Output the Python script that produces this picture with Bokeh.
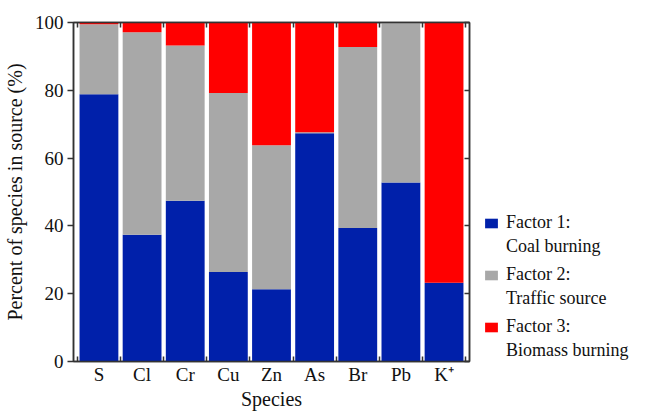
from bokeh.plotting import figure
from bokeh.layouts import row
from bokeh.models import (FixedTicker, LinearAxis, Range1d, Legend, LegendItem,
                          ColumnDataSource)
from bokeh.embed import file_html
from bokeh.resources import INLINE

species = ["S", "Cl", "Cr", "Cu", "Zn", "As", "Br", "Pb", "K\u207A"]
factor1 = [78.8, 37.4, 47.4, 26.4, 21.3, 67.3, 39.4, 52.8, 23.2]
factor2 = [20.7, 59.7, 45.8, 52.8, 42.5, 0.3, 53.4, 47.2, 0.0]
factor3 = [0.5, 2.9, 6.8, 20.8, 36.2, 32.4, 7.2, 0.0, 76.8]
factor_titles = ["Factor 1:", "Factor 2:", "Factor 3:"]
factor_sources = ["Coal burning", "Traffic source", "Biomass burning"]
colors = ["#0020AA", "#A8A8A8", "#FF0000"]
y_ticks = [0, 20, 40, 60, 80, 100]

x = list(range(len(species)))
src = ColumnDataSource(dict(x=x, f1=factor1, f2=factor2, f3=factor3))

FONT = "Liberation Serif"
H = 412
PW = 472

p = figure(width=PW, height=H, output_backend="svg", toolbar_location=None,
           x_range=Range1d(-0.59, len(species) - 1 + 0.59), y_range=Range1d(0, 100),
           x_axis_location=None, y_axis_location=None,
           min_border_left=64, min_border_top=22, min_border_bottom=50, min_border_right=3)
p.grid.visible = False
p.outline_line_color = "#333333"
p.outline_line_width = 1.5

r = p.vbar_stack(["f1", "f2", "f3"], x="x", width=0.9, source=src,
                 color=colors, line_color=None)

boundaries = [i - 0.5 for i in range(len(species) + 1)]

xb = LinearAxis(ticker=FixedTicker(ticks=x, minor_ticks=boundaries),
                major_label_overrides={i: s for i, s in enumerate(species)},
                axis_label="Species")
xb.major_tick_in = 0
xb.major_tick_out = 0
xb.minor_tick_in = 5
xb.minor_tick_out = 0
xb.major_label_standoff = 2
xb.axis_label_standoff = 0
p.add_layout(xb, "below")

xt = LinearAxis(ticker=FixedTicker(ticks=x, minor_ticks=boundaries),
                major_label_overrides={i: "" for i in x})
xt.major_tick_in = 0
xt.major_tick_out = 0
xt.minor_tick_in = 5
xt.minor_tick_out = 0
xt.major_label_standoff = 0
p.add_layout(xt, "above")

yl = LinearAxis(ticker=FixedTicker(ticks=y_ticks), axis_label="Percent of species in source (%)")
yl.major_tick_in = 0
yl.major_tick_out = 6
yl.minor_tick_in = 0
yl.minor_tick_out = 0
yl.major_label_standoff = 4
yl.axis_label_standoff = 6
p.add_layout(yl, "left")

yr = LinearAxis(ticker=FixedTicker(ticks=y_ticks),
                major_label_overrides={t: "" for t in y_ticks})
yr.major_tick_in = 5
yr.major_tick_out = 0
yr.minor_tick_in = 0
yr.minor_tick_out = 0
yr.major_label_standoff = 0
p.add_layout(yr, "right")

for ax in [xb, xt, yl, yr]:
    ax.axis_line_color = "#333333"
    ax.axis_line_width = 1.5
    ax.major_tick_line_color = "#333333"
    ax.minor_tick_line_color = "#333333"
    ax.major_tick_line_width = 1.5
    ax.minor_tick_line_width = 1.5
    ax.major_label_text_font = FONT
    ax.axis_label_text_font = FONT
    ax.axis_label_text_font_style = "normal"
    ax.major_label_text_color = "#111111"
    ax.axis_label_text_color = "#111111"
    ax.axis_label_text_font_size = "20px"
    ax.major_label_text_font_size = "19px"

# legend panel (its own plot; the bars drawn here lie outside its visible range,
# they only supply the legend swatches)
q = figure(width=630 - PW, height=H, output_backend="svg", toolbar_location=None,
           x_range=Range1d(-100, -99), y_range=Range1d(0, 1),
           x_axis_location=None, y_axis_location=None, min_border=0)
q.outline_line_color = None
q.grid.visible = False
swatches = q.vbar_stack(["f1", "f2", "f3"], x="x", width=0.9, source=src,
                        color=colors, line_color=None)
blank = q.vbar(x="x", top="f1", width=0.9, source=src, fill_alpha=0, line_alpha=0)
legend_y = [104, 52, 0]
for title, name, g, ly in zip(factor_titles, factor_sources, swatches, legend_y):
    lg = Legend(items=[LegendItem(label=title, renderers=[g]),
                       LegendItem(label=name, renderers=[blank])],
                location=(11, ly))
    lg.label_text_font = FONT
    lg.label_text_font_size = "18px"
    lg.label_text_color = "#111111"
    lg.glyph_width = 16
    lg.glyph_height = 12
    lg.label_height = 20
    lg.spacing = 3
    lg.label_standoff = 7
    lg.border_line_color = None
    lg.background_fill_alpha = 0
    lg.margin = 0
    lg.padding = 0
    q.add_layout(lg, "center")

open("out.html", "w").write(file_html(row(p, q), INLINE))
